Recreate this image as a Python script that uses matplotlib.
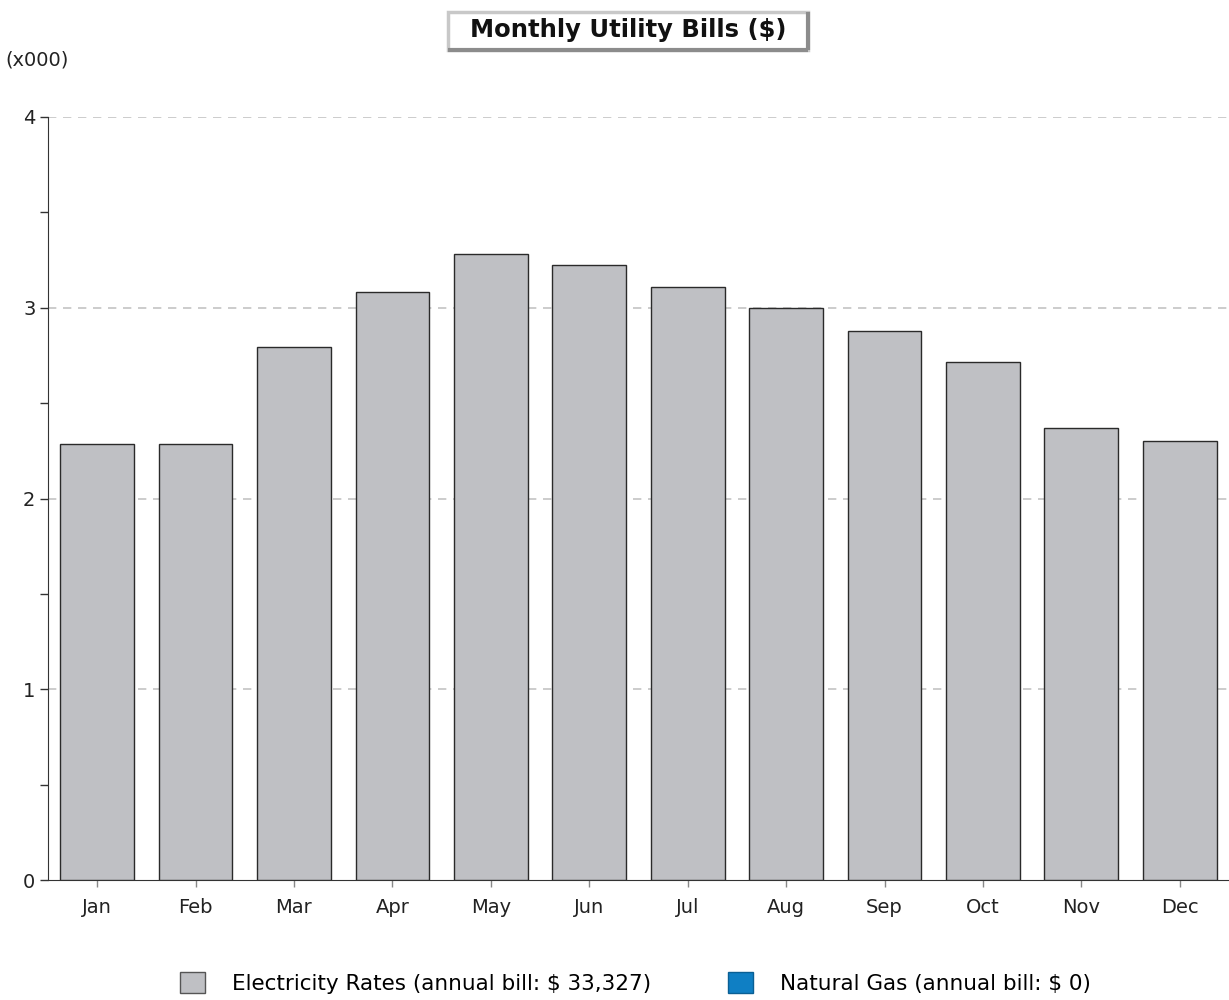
import matplotlib
matplotlib.use("Agg")
import matplotlib.pyplot as plt
from matplotlib.patches import Patch, Rectangle
import numpy as np

months = ["Jan", "Feb", "Mar", "Apr", "May", "Jun",
          "Jul", "Aug", "Sep", "Oct", "Nov", "Dec"]
# monthly electricity bill in thousands of dollars
electricity = [2.286, 2.286, 2.794, 3.083, 3.282, 3.224,
               3.109, 2.999, 2.878, 2.716, 2.370, 2.300]
electricity_label = "Electricity Rates (annual bill: $ 33,327)"
gas_label = "Natural Gas (annual bill: $ 0)"
y_major = [0, 1, 2, 3, 4]
y_minor = [0.5, 1.5, 2.5, 3.5]

plt.rcParams['font.family'] = ['DejaVu Sans']

fig = plt.figure(figsize=(12.29, 10), dpi=100)
ax = fig.add_axes([0.039, 0.12, 0.961, 0.763])

x = np.arange(len(months))
ax.bar(x, electricity, width=0.75, color="#bfc0c4",
       edgecolor="#2a2a2a", linewidth=1, zorder=3)

ax.set_xlim(-0.5, 11.5)
ax.set_ylim(0, 4)
ax.set_yticks(y_major)
ax.set_yticks(y_minor, minor=True)
ax.set_xticks(x)
ax.set_xticklabels(months)
ax.tick_params(axis="y", which="both", length=6, width=1, color="#333333",
               labelsize=14, labelcolor="#222222", pad=3)
ax.tick_params(axis="x", length=5, width=1, color="#888888",
               labelsize=14, labelcolor="#222222", pad=8)

# dashed guide lines above the baseline
for v in y_major[1:]:
    ax.axhline(v, color="#c4c4c4", linestyle=(0, (5, 4)),
               linewidth=1.2, zorder=0)
for s in ["top", "right"]:
    ax.spines[s].set_visible(False)
ax.spines["left"].set_color("#333333")
ax.spines["bottom"].set_color("#333333")

fig.text(0.004, 0.94, "(x000)", fontsize=14, va="center", ha="left",
         color="#222222")

# title box with a light top/left and darker bottom/right edge
fig.patches.append(Rectangle((0.3645, 0.950), 0.293, 0.038,
                             transform=fig.transFigure, facecolor="white",
                             edgecolor="#c8c8c8", linewidth=2.5))
fig.patches.append(Rectangle((0.3645, 0.950), 0.293, 0.0,
                             transform=fig.transFigure, fill=False,
                             edgecolor="#8c8c8c", linewidth=3))
fig.patches.append(Rectangle((0.6575, 0.950), 0.0, 0.038,
                             transform=fig.transFigure, fill=False,
                             edgecolor="#8c8c8c", linewidth=3))
fig.text(0.511, 0.970, "Monthly Utility Bills ($)", fontsize=17.5,
         fontweight="bold", ha="center", va="center", color="#111111")

handles = [Patch(facecolor="#bfc0c4", edgecolor="#555555", label=electricity_label),
           Patch(facecolor="#0f7fc4", edgecolor="#0a5f94", label=gas_label)]
fig.legend(handles=handles, loc="center", bbox_to_anchor=(0.517, 0.017),
           ncol=2, frameon=False, fontsize=15.5, handlelength=1.15,
           handleheight=1.15, handletextpad=1.25, columnspacing=3.6)

fig.savefig("out.png", dpi=100)
